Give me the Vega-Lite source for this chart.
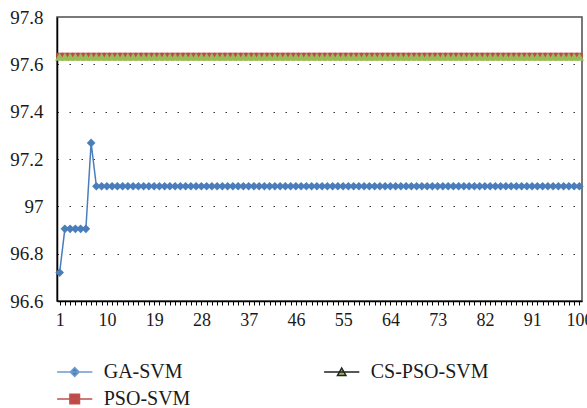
{
  "$schema": "https://vega.github.io/schema/vega-lite/v6.json",
  "width": 525,
  "height": 284,
  "autosize": "none",
  "padding": {"left": 57, "top": 17, "right": 5, "bottom": 107},
  "background": "white",
  "data": {"values": [
    {"x":1,"GA-SVM":96.72,"PSO-SVM":97.635,"CS-PSO-SVM":97.632},
    {"x":2,"GA-SVM":96.905,"PSO-SVM":97.635,"CS-PSO-SVM":97.632},
    {"x":3,"GA-SVM":96.905,"PSO-SVM":97.635,"CS-PSO-SVM":97.632},
    {"x":4,"GA-SVM":96.905,"PSO-SVM":97.635,"CS-PSO-SVM":97.632},
    {"x":5,"GA-SVM":96.905,"PSO-SVM":97.635,"CS-PSO-SVM":97.632},
    {"x":6,"GA-SVM":96.905,"PSO-SVM":97.635,"CS-PSO-SVM":97.632},
    {"x":7,"GA-SVM":97.268,"PSO-SVM":97.635,"CS-PSO-SVM":97.632},
    {"x":8,"GA-SVM":97.085,"PSO-SVM":97.635,"CS-PSO-SVM":97.632},
    {"x":9,"GA-SVM":97.085,"PSO-SVM":97.635,"CS-PSO-SVM":97.632},
    {"x":10,"GA-SVM":97.085,"PSO-SVM":97.635,"CS-PSO-SVM":97.632},
    {"x":11,"GA-SVM":97.085,"PSO-SVM":97.635,"CS-PSO-SVM":97.632},
    {"x":12,"GA-SVM":97.085,"PSO-SVM":97.635,"CS-PSO-SVM":97.632},
    {"x":13,"GA-SVM":97.085,"PSO-SVM":97.635,"CS-PSO-SVM":97.632},
    {"x":14,"GA-SVM":97.085,"PSO-SVM":97.635,"CS-PSO-SVM":97.632},
    {"x":15,"GA-SVM":97.085,"PSO-SVM":97.635,"CS-PSO-SVM":97.632},
    {"x":16,"GA-SVM":97.085,"PSO-SVM":97.635,"CS-PSO-SVM":97.632},
    {"x":17,"GA-SVM":97.085,"PSO-SVM":97.635,"CS-PSO-SVM":97.632},
    {"x":18,"GA-SVM":97.085,"PSO-SVM":97.635,"CS-PSO-SVM":97.632},
    {"x":19,"GA-SVM":97.085,"PSO-SVM":97.635,"CS-PSO-SVM":97.632},
    {"x":20,"GA-SVM":97.085,"PSO-SVM":97.635,"CS-PSO-SVM":97.632},
    {"x":21,"GA-SVM":97.085,"PSO-SVM":97.635,"CS-PSO-SVM":97.632},
    {"x":22,"GA-SVM":97.085,"PSO-SVM":97.635,"CS-PSO-SVM":97.632},
    {"x":23,"GA-SVM":97.085,"PSO-SVM":97.635,"CS-PSO-SVM":97.632},
    {"x":24,"GA-SVM":97.085,"PSO-SVM":97.635,"CS-PSO-SVM":97.632},
    {"x":25,"GA-SVM":97.085,"PSO-SVM":97.635,"CS-PSO-SVM":97.632},
    {"x":26,"GA-SVM":97.085,"PSO-SVM":97.635,"CS-PSO-SVM":97.632},
    {"x":27,"GA-SVM":97.085,"PSO-SVM":97.635,"CS-PSO-SVM":97.632},
    {"x":28,"GA-SVM":97.085,"PSO-SVM":97.635,"CS-PSO-SVM":97.632},
    {"x":29,"GA-SVM":97.085,"PSO-SVM":97.635,"CS-PSO-SVM":97.632},
    {"x":30,"GA-SVM":97.085,"PSO-SVM":97.635,"CS-PSO-SVM":97.632},
    {"x":31,"GA-SVM":97.085,"PSO-SVM":97.635,"CS-PSO-SVM":97.632},
    {"x":32,"GA-SVM":97.085,"PSO-SVM":97.635,"CS-PSO-SVM":97.632},
    {"x":33,"GA-SVM":97.085,"PSO-SVM":97.635,"CS-PSO-SVM":97.632},
    {"x":34,"GA-SVM":97.085,"PSO-SVM":97.635,"CS-PSO-SVM":97.632},
    {"x":35,"GA-SVM":97.085,"PSO-SVM":97.635,"CS-PSO-SVM":97.632},
    {"x":36,"GA-SVM":97.085,"PSO-SVM":97.635,"CS-PSO-SVM":97.632},
    {"x":37,"GA-SVM":97.085,"PSO-SVM":97.635,"CS-PSO-SVM":97.632},
    {"x":38,"GA-SVM":97.085,"PSO-SVM":97.635,"CS-PSO-SVM":97.632},
    {"x":39,"GA-SVM":97.085,"PSO-SVM":97.635,"CS-PSO-SVM":97.632},
    {"x":40,"GA-SVM":97.085,"PSO-SVM":97.635,"CS-PSO-SVM":97.632},
    {"x":41,"GA-SVM":97.085,"PSO-SVM":97.635,"CS-PSO-SVM":97.632},
    {"x":42,"GA-SVM":97.085,"PSO-SVM":97.635,"CS-PSO-SVM":97.632},
    {"x":43,"GA-SVM":97.085,"PSO-SVM":97.635,"CS-PSO-SVM":97.632},
    {"x":44,"GA-SVM":97.085,"PSO-SVM":97.635,"CS-PSO-SVM":97.632},
    {"x":45,"GA-SVM":97.085,"PSO-SVM":97.635,"CS-PSO-SVM":97.632},
    {"x":46,"GA-SVM":97.085,"PSO-SVM":97.635,"CS-PSO-SVM":97.632},
    {"x":47,"GA-SVM":97.085,"PSO-SVM":97.635,"CS-PSO-SVM":97.632},
    {"x":48,"GA-SVM":97.085,"PSO-SVM":97.635,"CS-PSO-SVM":97.632},
    {"x":49,"GA-SVM":97.085,"PSO-SVM":97.635,"CS-PSO-SVM":97.632},
    {"x":50,"GA-SVM":97.085,"PSO-SVM":97.635,"CS-PSO-SVM":97.632},
    {"x":51,"GA-SVM":97.085,"PSO-SVM":97.635,"CS-PSO-SVM":97.632},
    {"x":52,"GA-SVM":97.085,"PSO-SVM":97.635,"CS-PSO-SVM":97.632},
    {"x":53,"GA-SVM":97.085,"PSO-SVM":97.635,"CS-PSO-SVM":97.632},
    {"x":54,"GA-SVM":97.085,"PSO-SVM":97.635,"CS-PSO-SVM":97.632},
    {"x":55,"GA-SVM":97.085,"PSO-SVM":97.635,"CS-PSO-SVM":97.632},
    {"x":56,"GA-SVM":97.085,"PSO-SVM":97.635,"CS-PSO-SVM":97.632},
    {"x":57,"GA-SVM":97.085,"PSO-SVM":97.635,"CS-PSO-SVM":97.632},
    {"x":58,"GA-SVM":97.085,"PSO-SVM":97.635,"CS-PSO-SVM":97.632},
    {"x":59,"GA-SVM":97.085,"PSO-SVM":97.635,"CS-PSO-SVM":97.632},
    {"x":60,"GA-SVM":97.085,"PSO-SVM":97.635,"CS-PSO-SVM":97.632},
    {"x":61,"GA-SVM":97.085,"PSO-SVM":97.635,"CS-PSO-SVM":97.632},
    {"x":62,"GA-SVM":97.085,"PSO-SVM":97.635,"CS-PSO-SVM":97.632},
    {"x":63,"GA-SVM":97.085,"PSO-SVM":97.635,"CS-PSO-SVM":97.632},
    {"x":64,"GA-SVM":97.085,"PSO-SVM":97.635,"CS-PSO-SVM":97.632},
    {"x":65,"GA-SVM":97.085,"PSO-SVM":97.635,"CS-PSO-SVM":97.632},
    {"x":66,"GA-SVM":97.085,"PSO-SVM":97.635,"CS-PSO-SVM":97.632},
    {"x":67,"GA-SVM":97.085,"PSO-SVM":97.635,"CS-PSO-SVM":97.632},
    {"x":68,"GA-SVM":97.085,"PSO-SVM":97.635,"CS-PSO-SVM":97.632},
    {"x":69,"GA-SVM":97.085,"PSO-SVM":97.635,"CS-PSO-SVM":97.632},
    {"x":70,"GA-SVM":97.085,"PSO-SVM":97.635,"CS-PSO-SVM":97.632},
    {"x":71,"GA-SVM":97.085,"PSO-SVM":97.635,"CS-PSO-SVM":97.632},
    {"x":72,"GA-SVM":97.085,"PSO-SVM":97.635,"CS-PSO-SVM":97.632},
    {"x":73,"GA-SVM":97.085,"PSO-SVM":97.635,"CS-PSO-SVM":97.632},
    {"x":74,"GA-SVM":97.085,"PSO-SVM":97.635,"CS-PSO-SVM":97.632},
    {"x":75,"GA-SVM":97.085,"PSO-SVM":97.635,"CS-PSO-SVM":97.632},
    {"x":76,"GA-SVM":97.085,"PSO-SVM":97.635,"CS-PSO-SVM":97.632},
    {"x":77,"GA-SVM":97.085,"PSO-SVM":97.635,"CS-PSO-SVM":97.632},
    {"x":78,"GA-SVM":97.085,"PSO-SVM":97.635,"CS-PSO-SVM":97.632},
    {"x":79,"GA-SVM":97.085,"PSO-SVM":97.635,"CS-PSO-SVM":97.632},
    {"x":80,"GA-SVM":97.085,"PSO-SVM":97.635,"CS-PSO-SVM":97.632},
    {"x":81,"GA-SVM":97.085,"PSO-SVM":97.635,"CS-PSO-SVM":97.632},
    {"x":82,"GA-SVM":97.085,"PSO-SVM":97.635,"CS-PSO-SVM":97.632},
    {"x":83,"GA-SVM":97.085,"PSO-SVM":97.635,"CS-PSO-SVM":97.632},
    {"x":84,"GA-SVM":97.085,"PSO-SVM":97.635,"CS-PSO-SVM":97.632},
    {"x":85,"GA-SVM":97.085,"PSO-SVM":97.635,"CS-PSO-SVM":97.632},
    {"x":86,"GA-SVM":97.085,"PSO-SVM":97.635,"CS-PSO-SVM":97.632},
    {"x":87,"GA-SVM":97.085,"PSO-SVM":97.635,"CS-PSO-SVM":97.632},
    {"x":88,"GA-SVM":97.085,"PSO-SVM":97.635,"CS-PSO-SVM":97.632},
    {"x":89,"GA-SVM":97.085,"PSO-SVM":97.635,"CS-PSO-SVM":97.632},
    {"x":90,"GA-SVM":97.085,"PSO-SVM":97.635,"CS-PSO-SVM":97.632},
    {"x":91,"GA-SVM":97.085,"PSO-SVM":97.635,"CS-PSO-SVM":97.632},
    {"x":92,"GA-SVM":97.085,"PSO-SVM":97.635,"CS-PSO-SVM":97.632},
    {"x":93,"GA-SVM":97.085,"PSO-SVM":97.635,"CS-PSO-SVM":97.632},
    {"x":94,"GA-SVM":97.085,"PSO-SVM":97.635,"CS-PSO-SVM":97.632},
    {"x":95,"GA-SVM":97.085,"PSO-SVM":97.635,"CS-PSO-SVM":97.632},
    {"x":96,"GA-SVM":97.085,"PSO-SVM":97.635,"CS-PSO-SVM":97.632},
    {"x":97,"GA-SVM":97.085,"PSO-SVM":97.635,"CS-PSO-SVM":97.632},
    {"x":98,"GA-SVM":97.085,"PSO-SVM":97.635,"CS-PSO-SVM":97.632},
    {"x":99,"GA-SVM":97.085,"PSO-SVM":97.635,"CS-PSO-SVM":97.632},
    {"x":100,"GA-SVM":97.085,"PSO-SVM":97.635,"CS-PSO-SVM":97.632}
  ]},
  "transform": [{"fold": ["GA-SVM", "PSO-SVM", "CS-PSO-SVM"], "as": ["series", "value"]}],
  "encoding": {
    "x": {"field": "x", "type": "quantitative",
      "scale": {"domain": [0.5, 100.5], "nice": false, "zero": false},
      "axis": {"title": null, "values": [1,2,3,4,5,6,7,8,9,10,11,12,13,14,15,16,17,18,19,20,21,22,23,24,25,26,27,28,29,30,31,32,33,34,35,36,37,38,39,40,41,42,43,44,45,46,47,48,49,50,51,52,53,54,55,56,57,58,59,60,61,62,63,64,65,66,67,68,69,70,71,72,73,74,75,76,77,78,79,80,81,82,83,84,85,86,87,88,89,90,91,92,93,94,95,96,97,98,99,100],
        "labelExpr": "datum.value % 9 == 1 ? datum.label : ''",
        "labelOverlap": false, "labelFlush": false, "labelBound": false,
        "grid": false, "tickSize": 4, "tickColor": "#000", "tickWidth": 1,
        "domainColor": "#000", "domainWidth": 1.5,
        "labelFontSize": 18, "labelPadding": 6, "labelColor": "#1a1a1a", "labelFont": "Liberation Serif"}},
    "y": {"field": "value", "type": "quantitative",
      "scale": {"domain": [96.6, 97.8], "nice": false, "zero": false},
      "axis": {"title": null, "values": [96.6, 96.8, 97, 97.2, 97.4, 97.6, 97.8], "format": "~g",
        "ticks": false, "labelPadding": 14, "labelFontSize": 19, "labelColor": "#1a1a1a", "labelFont": "Liberation Serif",
        "grid": true, "gridDash": [1.5, 10.5], "gridColor": "#333", "gridWidth": 1.2,
        "gridOpacity": {"condition": {"test": "datum.value < 96.7 || datum.value > 97.7", "value": 0}, "value": 1},
        "domainColor": "#000", "domainWidth": 1.5}}
  },
  "layer": [
    {
      "mark": {"type": "line", "strokeWidth": 1.5},
      "encoding": {
        "color": {"field": "series", "type": "nominal",
          "scale": {"domain": ["CS-PSO-SVM", "GA-SVM", "PSO-SVM"], "range": ["#9BBB59", "#4A7EBB", "#BE4B48"]},
          "legend": null}
      }
    },
    {
      "transform": [{"filter": "datum.series == 'GA-SVM'"}],
      "mark": {"type": "point", "shape": "diamond", "filled": true, "size": 75, "opacity": 1, "color": "#4A7EBB", "strokeWidth": 0}
    },
    {
      "transform": [{"filter": "datum.series == 'PSO-SVM'"}],
      "mark": {"type": "point", "shape": "square", "filled": true, "size": 45, "opacity": 1, "color": "#BE4B48", "strokeWidth": 0}
    },
    {
      "transform": [{"filter": "datum.series == 'CS-PSO-SVM'"}],
      "mark": {"type": "point", "shape": "triangle-up", "filled": true, "size": 85, "opacity": 1, "color": "#9BBB59", "strokeWidth": 0}
    },
    {
      "transform": [{"filter": "datum.x == 1"}],
      "mark": {"type": "point", "filled": true, "opacity": 0, "strokeWidth": 1.5},
      "encoding": {
        "fill": {"field": "series", "type": "nominal",
          "scale": {"domain": ["GA-SVM", "PSO-SVM", "CS-PSO-SVM"], "range": ["#4A7EBB", "#BE4B48", "#9BBB59"]},
          "legend": {"title": null, "orient": "none", "legendX": 7.7, "legendY": 345, "columns": 2, "columnPadding": 130, "rowPadding": 7,
            "symbolSize": 64, "symbolStrokeWidth": 1.5, "symbolOpacity": 1, "labelOffset": 19, "labelFontSize": 20, "labelColor": "#1a1a1a", "labelFont": "Liberation Serif", "padding": 0,
            "encode": {"symbols": {"update": {
              "shape": {"signal": "datum.value == 'GA-SVM' ? 'M-4.4,0H4.4M0,-1.1L1.1,0L0,1.1L-1.1,0Z' : datum.value == 'PSO-SVM' ? 'M-4.4,0H4.4M-1.2,-1.2H1.2V1.2H-1.2Z' : 'M-4.4,0H4.4M0,-1L1.05,0.85H-1.05Z'"},
              "stroke": {"signal": "datum.value == 'GA-SVM' ? '#6E9AD0' : datum.value == 'PSO-SVM' ? '#C0504D' : '#222222'"},
              "strokeWidth": {"value": 1.5},
              "opacity": {"value": 1}
            }}}}}
      }
    }
  ],
  "config": {
    "view": {"stroke": "#4d4d4d", "strokeWidth": 1.5},
    "font": "Liberation Serif"
  }
}
